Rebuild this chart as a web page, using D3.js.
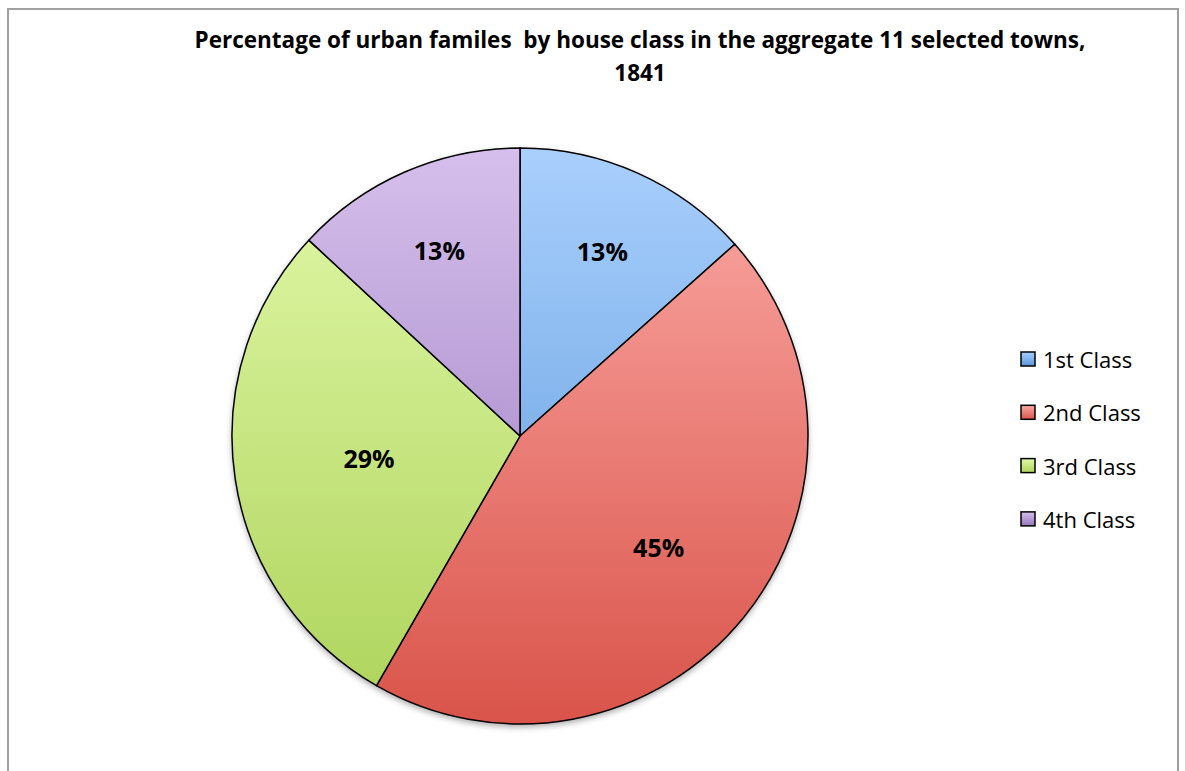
<!DOCTYPE html>
<html>
<head>
<meta charset="utf-8">
<script src="https://cdn.jsdelivr.net/npm/d3@7"></script>
<style>
  body { margin: 0; background: #fff; }
  svg { display: block; }
</style>
</head>
<body>
<div id="chart"></div>
<script>
// data
const categories = ["1st Class", "2nd Class", "3rd Class", "4th Class"];
const shares = [13.4, 44.9, 28.6, 13.1];
const labels = ["13%", "45%", "29%", "13%"];
const titleLines = ["Percentage of urban familes  by house class in the aggregate 11 selected towns,", "1841"];

const topColors = ["#a9cffd", "#fcaaa6", "#e2f9aa", "#d6bfec"];
const bottomColors = ["#5897d9", "#d9544a", "#add35a", "#9576bc"];
// how far out each data label sits, as a fraction of the radius
const labelRadius = [0.70, 0.62, 0.53, 0.70];

const width = 1185, height = 771;
const cx = 520, cy = 436, r = 288;

const svg = d3.select("#chart").append("svg")
    .attr("width", width)
    .attr("height", height);

const defs = svg.append("defs");

// gradients for each slice, spanning the pie's full height
categories.forEach((c, i) => {
    const g = defs.append("linearGradient")
        .attr("id", "grad" + i)
        .attr("gradientUnits", "userSpaceOnUse")
        .attr("x1", 0).attr("y1", -r)
        .attr("x2", 0).attr("y2", r);
    g.append("stop").attr("offset", "0%").attr("stop-color", topColors[i]);
    g.append("stop").attr("offset", "100%").attr("stop-color", bottomColors[i]);
});

const shadow = defs.append("filter").attr("id", "shadow")
    .attr("x", "-10%").attr("y", "-10%").attr("width", "120%").attr("height", "120%");
shadow.append("feDropShadow")
    .attr("dx", 0).attr("dy", 3).attr("stdDeviation", 3)
    .attr("flood-color", "#000").attr("flood-opacity", 0.35);

// chart frame
svg.append("rect")
    .attr("x", 8).attr("y", 9)
    .attr("width", 1170).attr("height", 800)
    .attr("fill", "#fff")
    .attr("stroke", "#a0a0a0")
    .attr("stroke-width", 2);

// title
svg.append("g").selectAll("text")
    .data(titleLines)
    .enter().append("text")
    .attr("x", 640)
    .attr("y", (d, i) => 48 + i * 33)
    .attr("text-anchor", "middle")
    .style("white-space", "pre")
    .style("font-family", "'Open Sans', sans-serif")
    .style("font-weight", "bold")
    .style("font-size", "22.5px")
    .text(d => d);

const pie = d3.pie().sort(null).value(d => d);
const arcs = pie(shares);
const arc = d3.arc().innerRadius(0).outerRadius(r);

const g = svg.append("g").attr("transform", `translate(${cx},${cy})`);

g.append("circle")
    .attr("r", r)
    .attr("fill", "#fff")
    .attr("filter", "url(#shadow)");

g.selectAll("path")
    .data(arcs)
    .enter().append("path")
    .attr("d", arc)
    .attr("fill", (d, i) => `url(#grad${i})`)
    .attr("stroke", "#000")
    .attr("stroke-width", 1.5)
    .attr("stroke-linejoin", "round");

g.selectAll(".label")
    .data(arcs)
    .enter().append("text")
    .attr("class", "label")
    .attr("transform", (d, i) => {
        const lr = r * labelRadius[i];
        return `translate(${d3.arc().innerRadius(lr).outerRadius(lr).centroid(d)})`;
    })
    .attr("text-anchor", "middle")
    .attr("dy", "0.35em")
    .style("font-family", "'Open Sans', sans-serif")
    .style("font-weight", "bold")
    .style("font-size", "25px")
    .text((d, i) => labels[i]);

// legend
const legend = svg.append("g").attr("transform", "translate(1021, 352)");
categories.forEach((c, i) => {
    const lg = defs.append("linearGradient").attr("id", "lg" + i)
        .attr("x1", 0).attr("y1", 0).attr("x2", 0).attr("y2", 1);
    lg.append("stop").attr("offset", "0%").attr("stop-color", topColors[i]);
    lg.append("stop").attr("offset", "100%").attr("stop-color", bottomColors[i]);

    const row = legend.append("g").attr("transform", `translate(0, ${i * 53.3})`);
    row.append("rect")
        .attr("width", 14).attr("height", 14)
        .attr("fill", `url(#lg${i})`)
        .attr("stroke", "#000")
        .attr("stroke-width", 1.5);
    row.append("text")
        .attr("x", 22)
        .attr("y", 16)
        .style("font-family", "'Open Sans', sans-serif")
        .style("font-size", "22px")
        .text(c);
});
</script>
</body>
</html>
